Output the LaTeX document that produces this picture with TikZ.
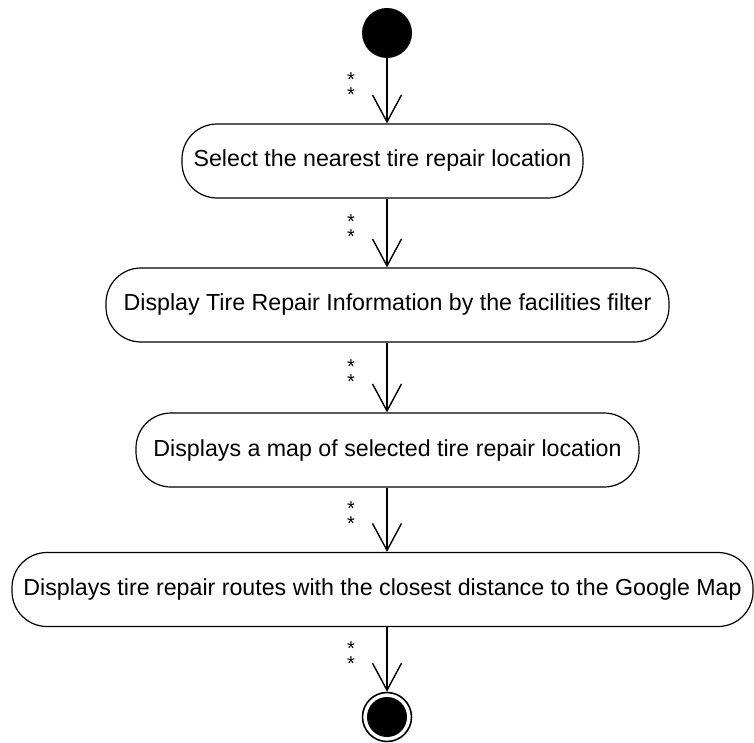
\documentclass[tikz,border=0pt]{standalone}
\usepackage{fontspec}
\setmainfont{Liberation Sans}
\usetikzlibrary{arrows.meta}

\tikzset{
  activity/.style={draw,rounded corners=35pt,minimum height=74pt,line width=1.2pt,
    font=\fontsize{23.2}{27}\selectfont,inner xsep=0pt},
  flow/.style={line width=1.2pt,-{Straight Barb[length=27pt,width=29pt,line width=1.4pt]}},
  mult/.style={font=\fontsize{20}{15}\selectfont,align=center,inner sep=0pt}
}

\begin{document}
\begin{tikzpicture}[x=1pt,y=-1pt]
	\useasboundingbox (0,0) rectangle (754,743);

	\node[circle,fill=black,minimum size=50pt,inner sep=0pt] (start) at (387,33) {};

	\node[activity,minimum width=401pt] (select) at (382.5,161) {Select the nearest tire repair location};
	\node[activity,minimum width=563pt] (info) at (387.5,305) {Display Tire Repair Information by the facilities filter};
	\node[activity,minimum width=503pt] (map) at (387.5,450) {Displays a map of selected tire repair location};
	\node[activity,minimum width=741pt] (route) at (382.5,589.5) {Displays tire repair routes with the closest distance to the Google Map};

	% final node: ring round a filled disc
	\node[circle,draw,line width=1.6pt,minimum size=49pt,inner sep=0pt] (stop) at (387,717) {};
	\fill (stop) circle (20pt);

	\draw[flow] (start) -- node[pos=0.45,xshift=-36pt,mult] {*\\*} (start |- select.north);
	\draw[flow] (select.south -| start) -- node[pos=0.45,xshift=-36pt,mult] {*\\*} (info.north -| start);
	\draw[flow] (info.south -| start) -- node[pos=0.45,xshift=-36pt,mult] {*\\*} (map.north -| start);
	\draw[flow] (map.south -| start) -- node[pos=0.45,xshift=-36pt,mult] {*\\*} (route.north -| start);
	\draw[flow] (route.south -| start) -- node[pos=0.45,xshift=-36pt,mult] {*\\*} (stop.north);
\end{tikzpicture}
\end{document}
